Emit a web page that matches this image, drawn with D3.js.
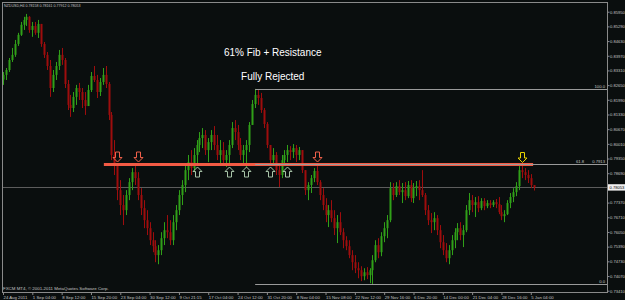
<!DOCTYPE html>
<html>
<head>
<meta charset="utf-8">
<script src="https://cdn.jsdelivr.net/npm/d3@7/dist/d3.min.js"></script>
<style>
  html, body { margin: 0; padding: 0; background: #0a0e0e; }
  svg { display: block; }
</style>
</head>
<body>
<div id="chart"></div>
<script>
// NZDUSD H4 candles, prices in pips (x 1e-4)
const highs = [
  8324, 8342, 8387, 8432, 8468, 8500, 8549, 8572, 8585, 8575,
  8549, 8549, 8558, 8540, 8459, 8414, 8378, 8333, 8369, 8423,
  8432, 8387, 8288, 8221, 8234, 8266, 8275, 8252, 8234, 8266,
  8324, 8351, 8311, 8297, 8342, 8351, 8279, 8144, 8018, 7915,
  7838, 7771, 7793, 7847, 7892, 7915, 7874, 7802, 7748, 7703,
  7649, 7604, 7568, 7546, 7604, 7649, 7681, 7658, 7681, 7726,
  7793, 7838, 7906, 7951, 7973, 7982, 8018, 8054, 8072, 8063,
  8027, 8063, 8081, 8041, 8018, 8009, 7973, 8018, 8099, 8108,
  8086, 8027, 7996, 8018, 8099, 8198, 8248, 8243, 8230, 8162,
  8099, 7996, 7982, 7964, 7906, 7951, 7973, 7996, 7991, 8000,
  7996, 7987, 7973, 7883, 7829, 7861, 7892, 7901, 7838, 7802,
  7757, 7726, 7748, 7703, 7681, 7694, 7622, 7586, 7568, 7523,
  7501, 7469, 7451, 7442, 7447, 7442, 7501, 7568, 7577, 7604,
  7649, 7681, 7829, 7825, 7829, 7838, 7825, 7829, 7834, 7838,
  7825, 7834, 7838, 7883, 7780, 7726, 7690, 7694, 7681, 7636,
  7591, 7555, 7546, 7591, 7622, 7645, 7649, 7636, 7726, 7780,
  7771, 7762, 7766, 7757, 7757, 7748, 7748, 7748, 7753, 7762,
  7726, 7703, 7748, 7780, 7802, 7829, 7901, 7910, 7892, 7883,
  7865, 7816.1
];
const lows = [
  8266, 8288, 8324, 8369, 8392, 8441, 8486, 8513, 8531, 8500,
  8482, 8491, 8477, 8437, 8387, 8333, 8212, 8234, 8288, 8333,
  8356, 8252, 8153, 8122, 8144, 8176, 8198, 8162, 8131, 8171,
  8234, 8279, 8207, 8216, 8266, 8252, 8108, 7928, 7861, 7748,
  7681, 7636, 7681, 7748, 7793, 7816, 7748, 7681, 7622, 7591,
  7546, 7514, 7469, 7460, 7501, 7546, 7577, 7546, 7546, 7613,
  7681, 7726, 7784, 7838, 7861, 7874, 7901, 7964, 7982, 7951,
  7919, 7973, 7973, 7928, 7906, 7901, 7897, 7901, 7982, 8018,
  7973, 7928, 7915, 7897, 7964, 8086, 8162, 8176, 8140, 8072,
  7982, 7901, 7906, 7861, 7807, 7847, 7901, 7919, 7928, 7937,
  7919, 7928, 7870, 7771, 7748, 7780, 7829, 7816, 7748, 7703,
  7649, 7627, 7649, 7591, 7555, 7591, 7532, 7523, 7487, 7433,
  7420, 7397, 7384, 7388, 7393, 7375, 7370, 7469, 7487, 7496,
  7559, 7577, 7649, 7748, 7762, 7771, 7735, 7748, 7757, 7739,
  7735, 7766, 7748, 7762, 7681, 7636, 7600, 7613, 7591, 7532,
  7501, 7469, 7460, 7501, 7532, 7568, 7568, 7537, 7604, 7681,
  7694, 7672, 7694, 7703, 7703, 7712, 7712, 7717, 7712, 7685,
  7658, 7649, 7681, 7712, 7739, 7766, 7793, 7847, 7838, 7825,
  7802, 7791.2
];
const closes = [
  8311, 8333, 8378, 8401, 8450, 8491, 8536, 8558, 8572, 8513,
  8531, 8500, 8540, 8450, 8401, 8351, 8252, 8311, 8351, 8401,
  8378, 8270, 8176, 8162, 8212, 8252, 8234, 8198, 8171, 8243,
  8306, 8288, 8234, 8279, 8311, 8270, 8131, 7951, 7906, 7793,
  7726, 7703, 7771, 7829, 7874, 7847, 7771, 7712, 7658, 7622,
  7568, 7541, 7501, 7523, 7577, 7613, 7604, 7568, 7649, 7703,
  7771, 7816, 7883, 7919, 7892, 7951, 7996, 8027, 8041, 7973,
  8009, 8041, 7996, 7951, 7973, 7928, 7951, 7996, 8072, 8054,
  7996, 7951, 7973, 7996, 8086, 8180, 8221, 8207, 8153, 8090,
  7996, 7928, 7951, 7883, 7861, 7928, 7951, 7973, 7964, 7982,
  7951, 7973, 7883, 7793, 7816, 7847, 7879, 7829, 7771, 7726,
  7681, 7703, 7667, 7622, 7649, 7604, 7568, 7541, 7501, 7469,
  7442, 7433, 7406, 7424, 7411, 7433, 7478, 7546, 7514, 7586,
  7622, 7658, 7802, 7771, 7811, 7784, 7793, 7766, 7816, 7757,
  7802, 7811, 7793, 7771, 7703, 7658, 7649, 7667, 7613, 7559,
  7523, 7487, 7523, 7568, 7604, 7622, 7591, 7613, 7703, 7748,
  7726, 7739, 7712, 7744, 7721, 7735, 7726, 7739, 7730, 7694,
  7676, 7685, 7735, 7762, 7784, 7811, 7883, 7874, 7861, 7847,
  7815.8, 7805.3
];
const firstOpen = 8290;

// time axis: one label every 10 bars
const timeLabels = [
  '24 Aug 2011', '1 Sep 04:00', '8 Sep 12:00', '15 Sep 20:00', '23 Sep 04:00',
  '30 Sep 12:00', '9 Oct 21:15', '17 Oct 04:00', '24 Oct 12:00', '31 Oct 20:00',
  '8 Nov 04:00', '15 Nov 08:00', '22 Nov 12:00', '29 Nov 16:00', '6 Dec 20:00',
  '14 Dec 00:00', '21 Dec 04:00', '28 Dec 16:00', '5 Jan 04:00'
];
const timeTickBars = [0, 10, 20, 30, 40, 50, 60, 70, 80, 90, 100, 110, 120, 130, 140, 150, 160, 170, 180];

// price axis
const priceTicks = [
  0.8595, 0.8529, 0.8463, 0.8397, 0.8331, 0.8265, 0.8199, 0.8133, 0.8067, 0.8001,
  0.7935, 0.7869, 0.7803, 0.7737, 0.7671, 0.7605, 0.7539, 0.7473, 0.7407, 0.7341
];

// annotations
const fibHighBar = 86;
const fibLowBar = 126;
const fibLevels = [0, 61.8, 100];
const resistanceBars = [34.4, 180.8];
const downArrowBars = [39, 46, 107];
const upArrowBars = [66, 77, 83, 91, 97];
const yellowArrowBars = [177];
const notes = ['61% Fib + Resistance', 'Fully Rejected'];

const bars = closes.map((c, i) => ({
  i,
  o: (i ? closes[i - 1] : firstOpen) / 1e4,
  h: highs[i] / 1e4,
  l: lows[i] / 1e4,
  c: c / 1e4
}));
const last = bars[bars.length - 1];

const W = 625, H = 300;
const frame = { left: 2.5, right: 607.5, top: 2.5, bottom: 292.5 };
const FONT = '"Liberation Sans", Arial, sans-serif';
const AXIS_TXT = '#c4c4c4';

const x = d3.scaleLinear().domain([0, 206]).range([3, 607]);
const y = d3.scaleLinear().domain([0.7341, 0.8595]).range([290.7, 11.7]);

const svg = d3.select('#chart').append('svg')
  .attr('width', W).attr('height', H)
  .style('background', '#0a0e0e');

svg.append('clipPath').attr('id', 'plotclip')
  .append('rect')
  .attr('x', frame.left).attr('y', frame.top)
  .attr('width', frame.right - frame.left).attr('height', frame.bottom - frame.top);

const plot = svg.append('g').attr('clip-path', 'url(#plotclip)');

// fib levels
const fibHi = bars[fibHighBar].h, fibLo = bars[fibLowBar].l;
const fibPrice = (lv) => fibLo + (fibHi - fibLo) * lv / 100;

// current price line (behind candles)
plot.append('line')
  .attr('x1', frame.left).attr('x2', frame.right)
  .attr('y1', Math.round(y(last.c)) + 0.5).attr('y2', Math.round(y(last.c)) + 0.5)
  .attr('stroke', '#5c5c5c').attr('stroke-width', 1);

// candles
const up = '#30a018', down = '#9e0d0d';
const cg = plot.append('g');
bars.forEach((d) => {
  const cx = Math.round(x(d.i)) + 0.5;
  const col = d.c >= d.o ? up : down;
  cg.append('line')
    .attr('x1', cx).attr('x2', cx)
    .attr('y1', y(d.h)).attr('y2', y(d.l))
    .attr('stroke', col).attr('stroke-width', 1);
  const top = y(Math.max(d.o, d.c)), bot = y(Math.min(d.o, d.c));
  cg.append('rect')
    .attr('x', cx - 1).attr('width', 2)
    .attr('y', top).attr('height', Math.max(1, bot - top))
    .attr('fill', col);
});

// resistance line (red)
const resY = y(fibPrice(61.8)) + 1;
plot.append('line')
  .attr('x1', x(resistanceBars[0])).attr('x2', x(resistanceBars[1]))
  .attr('y1', resY).attr('y2', resY)
  .attr('stroke', '#f25a44').attr('stroke-width', 3);

// fibonacci lines
fibLevels.forEach((lv) => {
  const ly = Math.round(y(fibPrice(lv))) + 0.5;
  plot.append('line')
    .attr('x1', x(fibHighBar)).attr('x2', frame.right)
    .attr('y1', ly).attr('y2', ly)
    .attr('stroke', '#9a9a9a').attr('stroke-width', 1);
  const lbl = lv === 61.8 ? '61.8' : lv.toFixed(1);
  if (lv === 61.8) {
    plot.append('text').attr('x', 576).attr('y', ly - 1.5)
      .attr('font-family', FONT).attr('font-size', 4.2).attr('fill', AXIS_TXT)
      .text(lbl);
    plot.append('text').attr('x', 605).attr('y', ly - 1.5)
      .attr('text-anchor', 'end')
      .attr('font-family', FONT).attr('font-size', 4.2).attr('fill', AXIS_TXT)
      .text(fibPrice(lv).toFixed(4));
  } else {
    plot.append('text').attr('x', 605).attr('y', ly - 1.5)
      .attr('text-anchor', 'end')
      .attr('font-family', FONT).attr('font-size', 4.2).attr('fill', AXIS_TXT)
      .text(lbl);
  }
});

// hollow arrows
function arrowPath(cx, tipY, dir) {
  // dir = 1 pointing down, -1 pointing up
  const s = dir;
  const pts = [
    [cx - 2, tipY - s * 10], [cx + 2, tipY - s * 10], [cx + 2, tipY - s * 4.5],
    [cx + 4.5, tipY - s * 4.5], [cx, tipY], [cx - 4.5, tipY - s * 4.5], [cx - 2, tipY - s * 4.5]
  ];
  return 'M' + pts.map((p) => p.join(',')).join('L') + 'Z';
}
const lineY = y(fibPrice(61.8));
downArrowBars.forEach((b) => {
  plot.append('path').attr('d', arrowPath(Math.round(x(b)) + 0.5, lineY - 1.5, 1))
    .attr('fill', 'none').attr('stroke', '#f0604a').attr('stroke-width', 1);
});
yellowArrowBars.forEach((b) => {
  plot.append('path').attr('d', arrowPath(Math.round(x(b)) + 0.5, lineY - 1, 1))
    .attr('fill', 'none').attr('stroke', '#e8d400').attr('stroke-width', 1);
});
upArrowBars.forEach((b) => {
  plot.append('path').attr('d', arrowPath(Math.round(x(b)) + 0.5, lineY + 3.5, -1))
    .attr('fill', 'none').attr('stroke', '#a8c4a8').attr('stroke-width', 1);
});

// notes
plot.append('text')
  .attr('x', x(92)).attr('y', y(0.8398))
  .attr('text-anchor', 'middle')
  .attr('font-family', FONT).attr('font-size', 10).attr('fill', '#ffffff')
  .text(notes[0]);
plot.append('text')
  .attr('x', x(92)).attr('y', y(0.8286))
  .attr('text-anchor', 'middle')
  .attr('font-family', FONT).attr('font-size', 10).attr('fill', '#ffffff')
  .text(notes[1]);

// header & copyright
const f5 = d3.format('.5f');
svg.append('text').attr('x', 4).attr('y', 7)
  .attr('font-family', FONT).attr('font-size', 3.6).attr('fill', AXIS_TXT)
  .text(`NZDUSD,H4  ${f5(last.o)} ${f5(last.h)} ${f5(last.l)} ${f5(last.c)}`);
svg.append('text').attr('x', 3).attr('y', 289.5)
  .attr('font-family', FONT).attr('font-size', 4.4).attr('fill', AXIS_TXT)
  .text('FXCM MT4, \u00a9 2001-2011 MetaQuotes Software Corp.');

// frame
svg.append('rect')
  .attr('x', frame.left).attr('y', frame.top)
  .attr('width', frame.right - frame.left).attr('height', frame.bottom - frame.top)
  .attr('fill', 'none').attr('stroke', '#8a8a8a').attr('stroke-width', 1);

// price axis
const yAxis = svg.append('g')
  .attr('transform', `translate(${frame.right},0)`)
  .call(d3.axisRight(y).tickValues(priceTicks).tickFormat(d3.format('.5f')).tickSize(2).tickPadding(0.5));
yAxis.select('.domain').remove();
yAxis.selectAll('.tick line').attr('stroke', '#8a8a8a');
yAxis.selectAll('.tick text')
  .attr('font-family', FONT).attr('font-size', 4.1).attr('fill', AXIS_TXT);

// current price label
const cpY = y(last.c);
svg.append('rect')
  .attr('x', 608).attr('y', cpY - 3.2).attr('width', 17).attr('height', 6.4)
  .attr('fill', '#f0f0f0');
svg.append('text')
  .attr('x', 609.5).attr('y', cpY + 1.5)
  .attr('font-family', FONT).attr('font-size', 4.1).attr('fill', '#000000')
  .text(f5(last.c));

// time axis
const xAxis = svg.append('g')
  .attr('transform', `translate(0,${frame.bottom})`)
  .call(d3.axisBottom(x).tickValues(timeTickBars).tickFormat((d, i) => timeLabels[i]).tickSize(2.5).tickPadding(1));
xAxis.select('.domain').remove();
xAxis.selectAll('.tick line').attr('stroke', '#8a8a8a');
xAxis.selectAll('.tick text')
  .attr('text-anchor', 'start').attr('dy', '0.75em')
  .attr('font-family', FONT).attr('font-size', 4.3).attr('fill', AXIS_TXT);
</script>
</body>
</html>
